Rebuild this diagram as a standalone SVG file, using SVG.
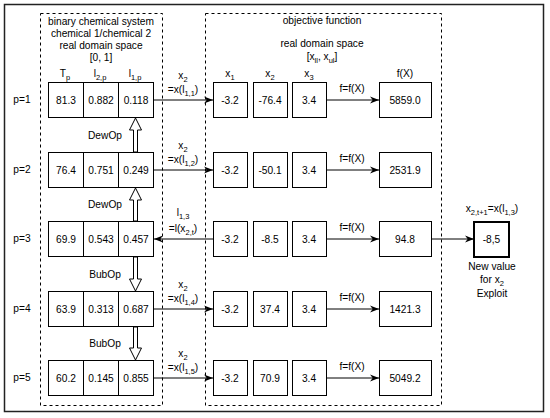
<svg xmlns="http://www.w3.org/2000/svg" width="550" height="418" viewBox="0 0 550 418">
<style>
text{font-family:"Liberation Sans",Arial,sans-serif;font-size:10.2px;fill:#000;text-anchor:middle}
.sub{font-size:7.5px}
.cell{fill:#fff;stroke:#000;stroke-width:1}
.dash{fill:none;stroke:#000;stroke-width:1;stroke-dasharray:3 3}
.conn{fill:none;stroke:#000;stroke-width:1}
.blk{fill:#fff;stroke:#000;stroke-width:1}
</style>
<defs>
<marker id="ah" viewBox="0 0 10 10" refX="10" refY="5" markerWidth="9" markerHeight="9" markerUnits="userSpaceOnUse" orient="auto">
<path d="M0,1 L10,5 L0,9 L3,5 z" fill="#000"/>
</marker>
</defs>
<rect width="550" height="418" fill="#fff"/>
<rect x="4.5" y="4.5" width="539" height="407" fill="none" stroke="#222" stroke-width="1.5"/>
<g id="group-left">
<rect class="dash" x="40.5" y="13.5" width="122" height="392"/>
<text x="101" y="25">binary chemical system</text>
<text x="101" y="37">chemical 1/chemical 2</text>
<text x="101" y="49">real domain space</text>
<text x="101" y="61">[0, 1]</text>
<text x="65" y="77">T<tspan class="sub" dy="3">p</tspan></text>
<text x="100" y="77">l<tspan class="sub" dy="3">2,p</tspan></text>
<text x="135" y="77">l<tspan class="sub" dy="3">1,p</tspan></text>
</g>
<g id="group-right">
<rect class="dash" x="205.5" y="13.5" width="236" height="392"/>
<text x="322" y="24">objective function</text>
<text x="322" y="47">real domain space</text>
<text x="322" y="60">[x<tspan class="sub" dy="3">ll</tspan><tspan dy="-3">, x</tspan><tspan class="sub" dy="3">ul</tspan><tspan dy="-3">]</tspan></text>
<text x="230" y="77">x<tspan class="sub" dy="3">1</tspan></text>
<text x="270" y="77">x<tspan class="sub" dy="3">2</tspan></text>
<text x="309" y="77">x<tspan class="sub" dy="3">3</tspan></text>
<text x="405" y="77">f(X)</text>
</g>
<g id="p-labels">
<text x="22" y="103">p=1</text>
<text x="22" y="173">p=2</text>
<text x="22" y="242">p=3</text>
<text x="22" y="312">p=4</text>
<text x="22" y="381">p=5</text>
</g>
<g id="row1">
<rect class="cell" x="48.5" y="82.5" width="35" height="35"/><text x="66" y="104">81.3</text>
<rect class="cell" x="83.5" y="82.5" width="35" height="35"/><text x="101" y="104">0.882</text>
<rect class="cell" x="118.5" y="82.5" width="35" height="35"/><text x="136" y="104">0.118</text>
<rect class="cell" x="213.5" y="82.5" width="34" height="35"/><text x="230" y="104">-3.2</text>
<rect class="cell" x="253.5" y="82.5" width="34" height="35"/><text x="270" y="104">-76.4</text>
<rect class="cell" x="292.5" y="82.5" width="34" height="35"/><text x="309" y="104">3.4</text>
<rect class="cell" x="379.5" y="82.5" width="52" height="35"/><text x="405" y="104">5859.0</text>
</g>
<g id="row2">
<rect class="cell" x="48.5" y="152.5" width="35" height="35"/><text x="66" y="174">76.4</text>
<rect class="cell" x="83.5" y="152.5" width="35" height="35"/><text x="101" y="174">0.751</text>
<rect class="cell" x="118.5" y="152.5" width="35" height="35"/><text x="136" y="174">0.249</text>
<rect class="cell" x="213.5" y="152.5" width="34" height="35"/><text x="230" y="174">-3.2</text>
<rect class="cell" x="253.5" y="152.5" width="34" height="35"/><text x="270" y="174">-50.1</text>
<rect class="cell" x="292.5" y="152.5" width="34" height="35"/><text x="309" y="174">3.4</text>
<rect class="cell" x="379.5" y="152.5" width="52" height="35"/><text x="405" y="174">2531.9</text>
</g>
<g id="row3">
<rect class="cell" x="48.5" y="221.5" width="35" height="35"/><text x="66" y="243">69.9</text>
<rect class="cell" x="83.5" y="221.5" width="35" height="35"/><text x="101" y="243">0.543</text>
<rect class="cell" x="118.5" y="221.5" width="35" height="35"/><text x="136" y="243">0.457</text>
<rect class="cell" x="213.5" y="221.5" width="34" height="35"/><text x="230" y="243">-3.2</text>
<rect class="cell" x="253.5" y="221.5" width="34" height="35"/><text x="270" y="243">-8.5</text>
<rect class="cell" x="292.5" y="221.5" width="34" height="35"/><text x="309" y="243">3.4</text>
<rect class="cell" x="379.5" y="221.5" width="52" height="35"/><text x="405" y="243">94.8</text>
</g>
<g id="row4">
<rect class="cell" x="48.5" y="291.5" width="35" height="35"/><text x="66" y="313">63.9</text>
<rect class="cell" x="83.5" y="291.5" width="35" height="35"/><text x="101" y="313">0.313</text>
<rect class="cell" x="118.5" y="291.5" width="35" height="35"/><text x="136" y="313">0.687</text>
<rect class="cell" x="213.5" y="291.5" width="34" height="35"/><text x="230" y="313">-3.2</text>
<rect class="cell" x="253.5" y="291.5" width="34" height="35"/><text x="270" y="313">37.4</text>
<rect class="cell" x="292.5" y="291.5" width="34" height="35"/><text x="309" y="313">3.4</text>
<rect class="cell" x="379.5" y="291.5" width="52" height="35"/><text x="405" y="313">1421.3</text>
</g>
<g id="row5">
<rect class="cell" x="48.5" y="360.5" width="35" height="35"/><text x="66" y="382">60.2</text>
<rect class="cell" x="83.5" y="360.5" width="35" height="35"/><text x="101" y="382">0.145</text>
<rect class="cell" x="118.5" y="360.5" width="35" height="35"/><text x="136" y="382">0.855</text>
<rect class="cell" x="213.5" y="360.5" width="34" height="35"/><text x="230" y="382">-3.2</text>
<rect class="cell" x="253.5" y="360.5" width="34" height="35"/><text x="270" y="382">70.9</text>
<rect class="cell" x="292.5" y="360.5" width="34" height="35"/><text x="309" y="382">3.4</text>
<rect class="cell" x="379.5" y="360.5" width="52" height="35"/><text x="405" y="382">5049.2</text>
</g>
<g id="new-value">
<text x="492" y="212">x<tspan class="sub" dy="3">2,t+1</tspan><tspan dy="-3">=x(l</tspan><tspan class="sub" dy="3">1,3</tspan><tspan dy="-3">)</tspan></text>
<rect x="474" y="222" width="35" height="35" fill="#fff" stroke="#000" stroke-width="2"/>
<text x="491.5" y="243">-8,5</text>
<text x="492" y="270">New value</text>
<text x="492" y="283">for x<tspan class="sub" dy="3">2</tspan></text>
<text x="492" y="297">Exploit</text>
</g>
<g id="connectors">
<line class="conn" x1="154" y1="100" x2="213" y2="100" marker-end="url(#ah)"/>
<line class="conn" x1="154" y1="170" x2="213" y2="170" marker-end="url(#ah)"/>
<line class="conn" x1="213" y1="239" x2="154" y2="239" marker-end="url(#ah)"/>
<line class="conn" x1="154" y1="309" x2="213" y2="309" marker-end="url(#ah)"/>
<line class="conn" x1="154" y1="378" x2="213" y2="378" marker-end="url(#ah)"/>
<line class="conn" x1="327" y1="100" x2="379" y2="100" marker-end="url(#ah)"/>
<line class="conn" x1="327" y1="170" x2="379" y2="170" marker-end="url(#ah)"/>
<line class="conn" x1="327" y1="239" x2="379" y2="239" marker-end="url(#ah)"/>
<line class="conn" x1="327" y1="309" x2="379" y2="309" marker-end="url(#ah)"/>
<line class="conn" x1="327" y1="378" x2="379" y2="378" marker-end="url(#ah)"/>
<line class="conn" x1="432" y1="239" x2="474" y2="239" marker-end="url(#ah)"/>
<text x="183" y="79">x<tspan class="sub" dy="3">2</tspan></text>
<text x="183" y="93">=x(l<tspan class="sub" dy="3">1,1</tspan><tspan dy="-3">)</tspan></text>
<text x="183" y="149">x<tspan class="sub" dy="3">2</tspan></text>
<text x="183" y="163">=x(l<tspan class="sub" dy="3">1,2</tspan><tspan dy="-3">)</tspan></text>
<text x="183" y="216">l<tspan class="sub" dy="3">1,3</tspan></text>
<text x="183" y="232">=l(x<tspan class="sub" dy="3">2,t</tspan><tspan dy="-3">)</tspan></text>
<text x="183" y="288">x<tspan class="sub" dy="3">2</tspan></text>
<text x="183" y="302">=x(l<tspan class="sub" dy="3">1,4</tspan><tspan dy="-3">)</tspan></text>
<text x="183" y="357">x<tspan class="sub" dy="3">2</tspan></text>
<text x="183" y="371">=x(l<tspan class="sub" dy="3">1,5</tspan><tspan dy="-3">)</tspan></text>
<text x="352" y="92">f=f(X)</text>
<text x="352" y="162">f=f(X)</text>
<text x="352" y="231">f=f(X)</text>
<text x="352" y="301">f=f(X)</text>
<text x="352" y="370">f=f(X)</text>
<path class="blk" d="M135.5,118 L141.5,130 L137.5,130 L137.5,152 L133.5,152 L133.5,130 L129.5,130 Z"/>
<path class="blk" d="M135.5,188 L141.5,200 L137.5,200 L137.5,221 L133.5,221 L133.5,200 L129.5,200 Z"/>
<path class="blk" d="M135.5,291 L141.5,279 L137.5,279 L137.5,257 L133.5,257 L133.5,279 L129.5,279 Z"/>
<path class="blk" d="M135.5,360 L141.5,348 L137.5,348 L137.5,327 L133.5,327 L133.5,348 L129.5,348 Z"/>
<text x="105" y="139">DewOp</text>
<text x="105" y="208">DewOp</text>
<text x="105" y="278">BubOp</text>
<text x="105" y="347">BubOp</text>
</g>
</svg>
